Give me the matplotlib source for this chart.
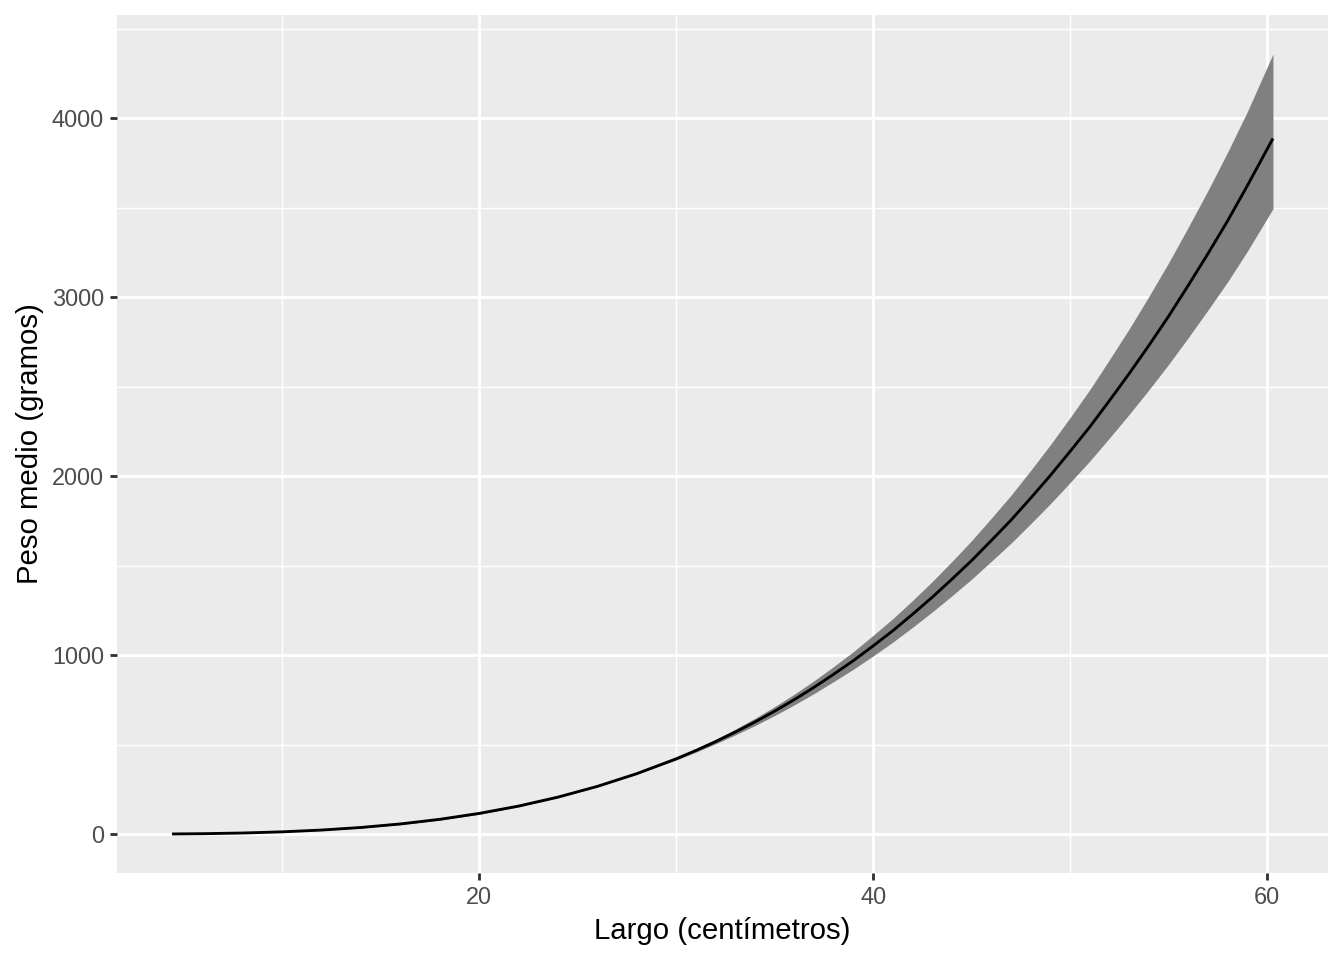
import matplotlib
matplotlib.use("Agg")
import matplotlib.pyplot as plt
from matplotlib.ticker import FixedLocator

# Data
largo = [4.4, 6, 8, 10, 12, 14, 16, 18, 20, 22, 24, 26, 28, 30,
         31, 32, 33, 34, 35, 36, 37, 38, 39, 40, 41, 42, 43, 44, 45, 46, 47,
         48, 49, 50, 51, 52, 53, 54, 55, 56, 57, 58, 59, 60.3]
peso = [0.94, 2.52, 6.29, 12.8, 22.9, 37.3, 57.0, 82.9, 115.9, 156.9, 207, 267, 338,
        421, 467.4, 517, 570.4, 627, 687.5, 752, 820.8, 894, 970, 1052, 1137, 1229,
        1324, 1425, 1529, 1641, 1755, 1878, 2005, 2139, 2276, 2423, 2574, 2731,
        2894, 3067, 3244, 3428, 3624, 3888]
peso_sup = [1.21, 3.10, 7.44, 14.7, 25.6, 40.8, 61.3, 87.8, 120.9, 161.5, 211, 269.7,
            341, 428, 476.9, 530, 586.8, 647.5, 712.8, 782.6, 857.4, 937, 1020.5,
            1111, 1204.5, 1306, 1411.6, 1524, 1640.5, 1766, 1894.2, 2033, 2176.7,
            2328, 2484.5, 2652, 2824, 3005, 3193, 3392, 3597, 3812, 4038, 4360]
peso_inf = [0.73, 2.05, 5.32, 11.1, 20.5, 34.1, 53.0, 78.3, 111.1, 152.4, 203, 264.4,
            335, 414, 458.1, 505, 554.5, 607, 663.1, 722.6, 785.8, 853, 922, 996,
            1073.2, 1156, 1241.8, 1332, 1425.1, 1525, 1626.1, 1735, 1846.9, 1965,
            2085, 2214, 2346, 2483, 2625, 2775, 2929, 3087, 3258, 3495]

x_major = [20, 40, 60]
x_minor = [10, 30, 50]
y_major = [0, 1000, 2000, 3000, 4000]
y_minor = [500, 1500, 2500, 3500, 4500]

plt.rcParams['font.family'] = ['Liberation Sans', 'DejaVu Sans']

fig = plt.figure(figsize=(7, 5), dpi=192)
ax = fig.add_axes([117/1344, 1 - 873/960, (1328-117)/1344, (873-15)/960])
ax.set_facecolor('#EBEBEB')
for s in ax.spines.values():
    s.set_visible(False)

ax.fill_between(largo, peso_inf, peso_sup, color='#808080', linewidth=0, zorder=2)
ax.plot(largo, peso, color='black', linewidth=1.07, zorder=3,
        solid_capstyle='butt', solid_joinstyle='round')

ax.margins(x=0.05, y=0.05)

ax.xaxis.set_major_locator(FixedLocator(x_major))
ax.xaxis.set_minor_locator(FixedLocator(x_minor))
ax.yaxis.set_major_locator(FixedLocator(y_major))
ax.yaxis.set_minor_locator(FixedLocator(y_minor))

ax.grid(which='major', color='white', linewidth=1.07, zorder=0)
ax.grid(which='minor', color='white', linewidth=0.53, zorder=0)
ax.set_axisbelow(True)

ax.tick_params(which='major', length=2.75, width=1.07, color='#333333',
               labelsize=8.8, labelcolor='#4D4D4D', pad=2.2)
ax.tick_params(which='minor', length=0)

ax.set_xlabel('Largo (centímetros)', fontsize=11, color='black', labelpad=2.75)
ax.set_ylabel('Peso medio (gramos)', fontsize=11, color='black', labelpad=2.75)

fig.savefig('out.png', dpi=192)
